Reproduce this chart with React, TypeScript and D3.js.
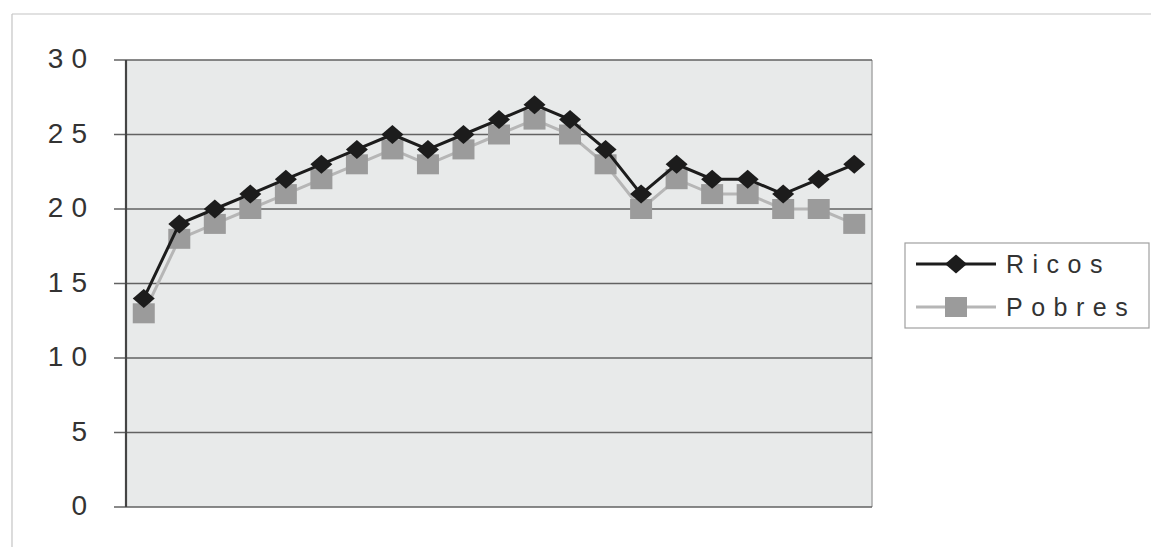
import * as d3 from "d3";

// values (21 periods, no x labels)
const periods = d3.range(21).map((i) => `p${i + 1}`);
const ricos = [14, 19, 20, 21, 22, 23, 24, 25, 24, 25, 26, 27, 26, 24, 21, 23, 22, 22, 21, 22, 23];
const pobres = [13, 18, 19, 20, 21, 22, 23, 24, 23, 24, 25, 26, 25, 23, 20, 22, 21, 21, 20, 20, 19];
const yTicks = [0, 5, 10, 15, 20, 25, 30];
const seriesNames = ["Ricos", "Pobres"];

const W = 1151;
const H = 547;
const plot = { left: 126, right: 872, top: 60, bottom: 507 };
const FONT = "'Liberation Sans', Arial, sans-serif";

export default function App() {
  const x = d3
    .scaleBand<string>()
    .domain(periods)
    .range([plot.left, plot.right]);
  const y = d3.scaleLinear().domain([0, 30]).range([plot.bottom, plot.top]);
  const cx = (i: number) => (x(periods[i]) ?? 0) + x.bandwidth() / 2;

  const line = d3
    .line<number>()
    .x((_, i) => cx(i))
    .y((d) => y(d));

  const diamond = (px: number, py: number, w = 22, h = 19) =>
    `M${px - w / 2},${py} L${px},${py - h / 2} L${px + w / 2},${py} L${px},${py + h / 2} Z`;

  const legendRows = [264, 307];

  return (
    <svg
      width={W}
      height={H}
      style={{ position: "absolute", left: 0, top: 0, background: "#fff" }}
    >
      {/* outer chart border */}
      <line x1={12} x2={W} y1={14} y2={14} stroke="#c4c4c4" strokeWidth={1.2} />
      <line x1={12} x2={12} y1={14} y2={H} stroke="#c4c4c4" strokeWidth={1.2} />

      {/* plot area */}
      <rect
        x={plot.left}
        y={plot.top}
        width={plot.right - plot.left}
        height={plot.bottom - plot.top}
        fill="#e8eaea"
      />
      <line x1={plot.right} x2={plot.right} y1={plot.top} y2={plot.bottom} stroke="#a8a8a8" strokeWidth={1.5} />

      {yTicks.map((t) => (
        <g key={t}>
          <line x1={114} x2={plot.right} y1={y(t)} y2={y(t)} stroke="#626262" strokeWidth={1.5} />
          <text
            x={95}
            y={y(t) + 8}
            textAnchor="end"
            fontFamily={FONT}
            fontSize={28}
            letterSpacing={8}
            fill="#333"
          >
            {t}
          </text>
        </g>
      ))}
      <line x1={plot.left} x2={plot.left} y1={plot.top} y2={plot.bottom} stroke="#444" strokeWidth={2.2} />

      {/* Pobres */}
      <path d={line(pobres) ?? ""} fill="none" stroke="#b6b6b6" strokeWidth={3} />
      {pobres.map((v, i) => (
        <rect key={i} x={cx(i) - 11} y={y(v) - 10} width={22} height={20} fill="#9b9b9b" />
      ))}

      {/* Ricos */}
      <path d={line(ricos) ?? ""} fill="none" stroke="#1c1c1c" strokeWidth={3} />
      {ricos.map((v, i) => (
        <path key={i} d={diamond(cx(i), y(v))} fill="#1c1c1c" />
      ))}

      {/* legend */}
      <rect x={905} y={243} width={244} height={85} fill="#fff" stroke="#a0a0a0" strokeWidth={1.2} />
      <line x1={916} x2={996} y1={legendRows[0]} y2={legendRows[0]} stroke="#1c1c1c" strokeWidth={3} />
      <path d={diamond(956, legendRows[0])} fill="#1c1c1c" />
      <line x1={916} x2={996} y1={legendRows[1]} y2={legendRows[1]} stroke="#b6b6b6" strokeWidth={3} />
      <rect x={945} y={legendRows[1] - 10} width={22} height={20} fill="#9b9b9b" />
      {seriesNames.map((name, i) => (
        <text
          key={name}
          x={1006}
          y={legendRows[i] + 9}
          fontFamily={FONT}
          fontSize={25}
          letterSpacing={8.5}
          fill="#333"
        >
          {name}
        </text>
      ))}
    </svg>
  );
}
